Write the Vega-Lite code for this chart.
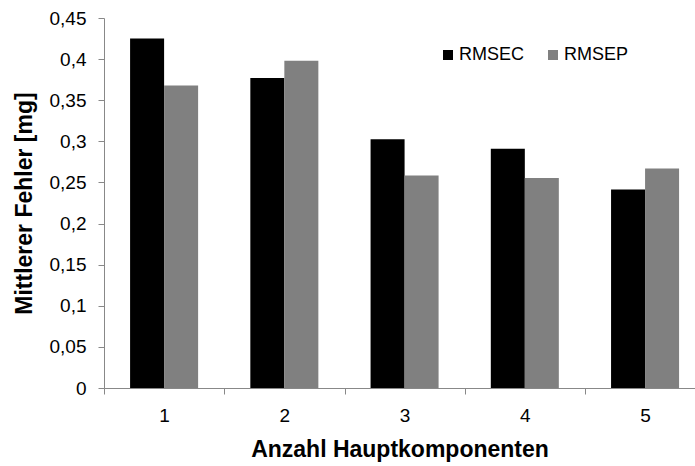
{
  "$schema": "https://vega.github.io/schema/vega-lite/v6.json",
  "width": 591,
  "height": 370,
  "autosize": {"type": "none"},
  "padding": {"left": 104, "top": 18, "right": 0, "bottom": 78},
  "background": "white",
  "config": {
    "view": {"stroke": null},
    "font": "Liberation Sans",
    "axis": {"domainColor": "#888888", "tickColor": "#888888", "grid": false, "labelColor": "black", "titleColor": "black", "labelFont": "Liberation Sans", "titleFont": "Liberation Sans"}
  },
  "data": {
    "values": [
      {"k": "1", "s": "RMSEC", "v": 0.425},
      {"k": "1", "s": "RMSEP", "v": 0.368},
      {"k": "2", "s": "RMSEC", "v": 0.377},
      {"k": "2", "s": "RMSEP", "v": 0.398},
      {"k": "3", "s": "RMSEC", "v": 0.3025},
      {"k": "3", "s": "RMSEP", "v": 0.2585},
      {"k": "4", "s": "RMSEC", "v": 0.291},
      {"k": "4", "s": "RMSEP", "v": 0.2555},
      {"k": "5", "s": "RMSEC", "v": 0.2415},
      {"k": "5", "s": "RMSEP", "v": 0.267}
    ]
  },
  "mark": {"type": "bar"},
  "encoding": {
    "x": {
      "field": "k", "type": "nominal",
      "scale": {"paddingInner": 0.4343, "paddingOuter": 0.1747, "align": 0.621},
      "axis": {"title": "Anzahl Hauptkomponenten", "labelAngle": 0, "bandPosition": 0, "tickExtra": false, "tickOffset": -26, "labelOffset": 26, "tickSize": 6, "labelPadding": 12, "labelFontSize": 19, "titleFontSize": 23, "titleFontWeight": "bold", "titlePadding": 13}
    },
    "xOffset": {"field": "s", "type": "nominal", "sort": ["RMSEC", "RMSEP"], "scale": {"paddingInner": 0, "paddingOuter": 0}},
    "y": {
      "field": "v", "type": "quantitative",
      "scale": {"domain": [0, 0.45], "nice": false},
      "axis": {"title": "Mittlerer Fehler [mg]", "values": [0, 0.05, 0.1, 0.15, 0.2, 0.25, 0.3, 0.35, 0.4, 0.45], "labelExpr": "replace(format(datum.value, '~g'), '.', ',')", "tickSize": 6, "labelPadding": 12, "labelFontSize": 19, "titleFontSize": 23, "titleFontWeight": "bold", "titlePadding": 13}
    },
    "color": {
      "field": "s", "type": "nominal",
      "scale": {"domain": ["RMSEC", "RMSEP"], "range": ["#000000", "#808080"]},
      "legend": {"title": null, "orient": "none", "direction": "horizontal", "legendX": 335, "legendY": 28, "symbolType": "square", "symbolSize": 100, "symbolStrokeWidth": 0, "labelFontSize": 18, "labelOffset": 2, "columnPadding": 19, "padding": 0, "labelColor": "black", "labelFont": "Liberation Sans"}
    }
  }
}
